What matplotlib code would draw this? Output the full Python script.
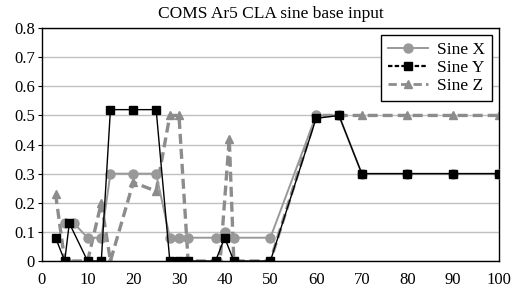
import matplotlib
matplotlib.use("Agg")
import matplotlib.pyplot as plt
from matplotlib.lines import Line2D

# data
x_sine_x = [5, 7, 10, 13, 15, 20, 25, 28, 30, 32, 38, 40, 42, 50, 60, 65, 70, 80, 90, 100]
y_sine_x = [0.13, 0.13, 0.08, 0.08, 0.30, 0.30, 0.30, 0.08, 0.08, 0.08, 0.08, 0.10, 0.08, 0.08,
            0.50, 0.50, 0.30, 0.30, 0.30, 0.30]

x_sine_y = [3, 5, 6, 10, 13, 15, 20, 25, 28, 30, 32, 38, 40, 42, 50, 60, 65, 70, 80, 90, 100]
y_sine_y = [0.08, 0.0, 0.13, 0.0, 0.0, 0.52, 0.52, 0.52, 0.0, 0.0, 0.0, 0.0, 0.08, 0.0, 0.0,
            0.49, 0.50, 0.30, 0.30, 0.30, 0.30]

x_sine_z = [3, 5, 6, 10, 13, 15, 20, 25, 28, 30, 32, 39, 41, 42, 50, 60, 65, 70, 80, 90, 100]
y_sine_z = [0.23, 0.0, 0.0, 0.0, 0.20, 0.0, 0.27, 0.24, 0.50, 0.50, 0.0, 0.0, 0.42, 0.0, 0.0,
            0.50, 0.50, 0.50, 0.50, 0.50, 0.50]

x_ticks = list(range(0, 101, 10))
y_ticks = [0, 0.1, 0.2, 0.3, 0.4, 0.5, 0.6, 0.7, 0.8]
y_tick_labels = ["0", "0.1", "0.2", "0.3", "0.4", "0.5", "0.6", "0.7", "0.8"]

plt.rcParams["font.family"] = ["Liberation Serif", "DejaVu Serif"]

GRAY = "#999999"
ZGRAY = "#8c8c8c"

fig = plt.figure(figsize=(5.17, 2.90), dpi=100)
ax = fig.add_axes([0.081, 0.10, 0.884, 0.803])

ax.plot(x_sine_z, y_sine_z, color=ZGRAY, linestyle=(0, (3, 1.5)), linewidth=2.4,
        marker="^", markersize=6, zorder=2)
ax.plot(x_sine_x, y_sine_x, color=GRAY, linewidth=1.4, marker="o", markersize=6.5, zorder=3)
ax.plot(x_sine_y, y_sine_y, color="black", linewidth=1.0, marker="s", markersize=5.5, zorder=4)

ax.set_xlim(0, 100)
ax.set_ylim(0, 0.8)
ax.set_xticks(x_ticks)
ax.set_yticks(y_ticks)
ax.set_yticklabels(y_tick_labels)
ax.tick_params(axis="both", labelsize=12, length=3, width=0.8, direction="out", pad=2)
ax.tick_params(axis="x", length=0, pad=8)
ax.yaxis.grid(True, color="#c0c0c0", linewidth=1.0)
ax.set_axisbelow(True)
for s in ax.spines.values():
    s.set_color("black")
    s.set_linewidth(1.0)

ax.set_title("COMS Ar5 CLA sine base input", fontsize=12.5, pad=7)

handles = [
    Line2D([], [], color=GRAY, linewidth=1.4, marker="o", markersize=6.5),
    Line2D([], [], color="black", linewidth=1.6, linestyle=(0, (2, 1)), marker="s", markersize=5.5),
    Line2D([], [], color=ZGRAY, linewidth=2.0, linestyle=(0, (3, 1.5)), marker="^", markersize=6),
]
leg = ax.legend(handles, ["Sine X", "Sine Y", "Sine Z"], loc="upper right", fontsize=12.5,
                frameon=True, fancybox=False, edgecolor="black", framealpha=1,
                borderaxespad=0.4, handlelength=2.3, handletextpad=0.5,
                labelspacing=0.1, borderpad=0.4)
leg.get_frame().set_linewidth(1.0)

fig.savefig("out.png", dpi=100)
